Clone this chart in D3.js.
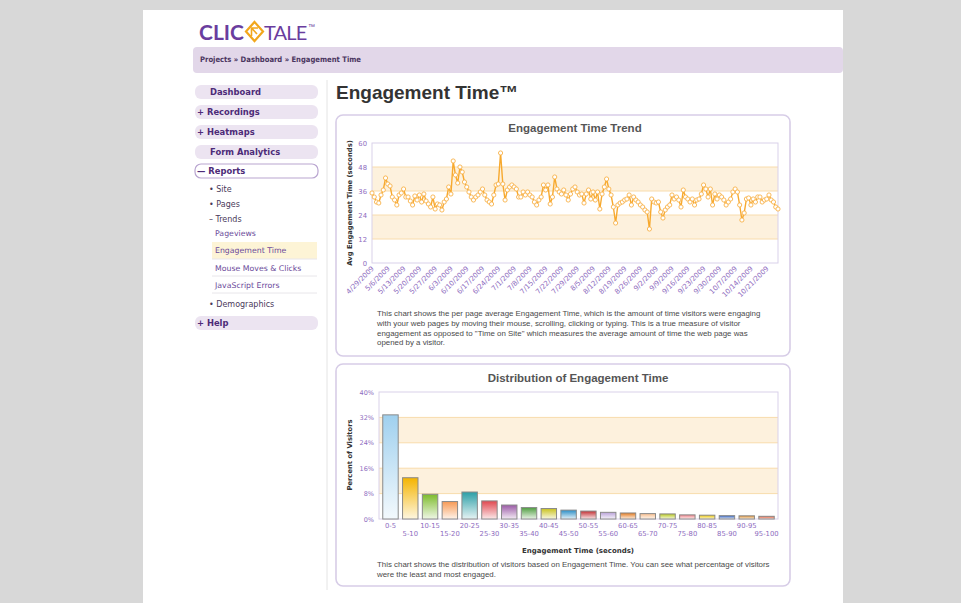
<!DOCTYPE html>
<html>
<head>
<meta charset="utf-8">
<script src="https://cdn.jsdelivr.net/npm/d3@7"></script>
<style>
  body { margin: 0; background: #d8d8d8; }
  svg { display: block; }
</style>
</head>
<body>
<svg id="page" width="961" height="603"></svg>
<script>
// ---- data ----
var trendStart = "4/29/2009";

// one value per day, 4/29/2009 .. 10/26/2009 (seconds)
var trendValues = [
  35, 33, 30.5, 30, 34, 36.5, 42.5, 39.5, 38.5, 33, 31.5, 29, 34, 35, 37, 33, 33, 31, 29, 33.5,
  31.5, 34, 30.5, 34.5, 31, 29.5, 28, 33, 27, 29.5, 29, 26.5, 30.5, 32, 38, 34.5,
  51, 44, 40, 48, 45.5, 40.5, 38, 35.5, 33, 31.5, 33, 34, 35.5, 37, 34, 31.5, 30.5, 29.5, 34, 39, 39.5, 55,
  39.5, 31.5, 36.5, 38, 39, 38, 37, 33, 33, 35.5, 34, 35.5, 34, 33, 30.5, 29, 31.5, 33, 39, 36.5, 39,
  29.5, 33, 43,
  37, 35.5, 34.5, 36.5, 34, 31.5, 34.5, 37, 38, 35.5, 34, 34.5, 30, 34.5, 36.5, 32, 35.5, 31.5, 35.5, 27, 34.5, 38,
  42, 37, 34, 28, 20,
  29, 30, 30.5, 31.5, 32, 34, 29, 33, 31.5, 30.5, 29, 28, 26.5, 25.5,
  17,
  32, 30.5, 30, 30.5, 25.5, 22.5, 26.5, 28, 29, 34, 32, 33, 31.5, 28, 36.5, 33, 32, 30.5, 32, 29, 31.5, 32, 34.5,
  39,
  37, 33, 37, 29, 34.5, 32, 34, 33, 31.5, 29, 30.5, 32, 35.5, 37, 35.5, 29,
  21.5,
  25, 32, 32.5, 29, 32, 30.5, 33, 33, 30.5, 31.5, 32, 34, 31.5, 30.5, 28, 27
];

var trendTickLabels = ["4/29/2009", "5/6/2009", "5/13/2009", "5/20/2009", "5/27/2009", "6/3/2009",
  "6/10/2009", "6/17/2009", "6/24/2009", "7/1/2009", "7/8/2009", "7/15/2009", "7/22/2009", "7/29/2009",
  "8/5/2009", "8/12/2009", "8/19/2009", "8/26/2009", "9/2/2009", "9/9/2009", "9/16/2009", "9/23/2009",
  "9/30/2009", "10/7/2009", "10/14/2009", "10/21/2009"];
var trendYTicks = [0, 12, 24, 36, 48, 60];
var trendBands = [[12, 24], [36, 48]];

var bucketLabels = ["0-5", "5-10", "10-15", "15-20", "20-25", "25-30", "30-35", "35-40", "40-45", "45-50",
  "50-55", "55-60", "60-65", "65-70", "70-75", "75-80", "80-85", "85-90", "90-95", "95-100"];
var bucketShares = [32.8, 13, 7.8, 5.5, 8.5, 5.7, 4.4, 3.6, 3.3, 2.8,
  2.5, 2.1, 1.9, 1.7, 1.6, 1.3, 1.2, 1.05, 1.0, 0.85];
var shareTicks = [0, 8, 16, 24, 32, 40];
var shareBands = [[8, 16], [24, 32]];

var bucketColors = ["#9fd0ee", "#f4b400", "#7dbb2c", "#f79a55", "#2b9ea6", "#e0474f", "#9a5aa6", "#4f9d40",
  "#c9c21e", "#2a8dc6", "#c22f33", "#b9a2d9", "#e27a1f", "#f7bd8c", "#b7c81b", "#ee7f86",
  "#e9c400", "#2f5fbf", "#e08f2e", "#e2522f"];

var menuTop = ["Dashboard", "+ Recordings", "+ Heatmaps", "Form Analytics"];
var subMenu = ["\u2022 Site", "\u2022 Pages", "\u2013 Trends"];
var trendMenu = ["Pageviews", "Engagement Time", "Mouse Moves & Clicks", "JavaScript Errors"];

var trendNote = [
  "This chart shows the per page average Engagement Time, which is the amount of time visitors were engaging",
  "with your web pages by moving their mouse, scrolling, clicking or typing. This is a true measure of visitor",
  "engagement as opposed to \"Time on Site\" which measures the average amount of time the web page was",
  "opened by a visitor."
];
var distNote = [
  "This chart shows the distribution of visitors based on Engagement Time. You can see what percentage of visitors",
  "were the least and most engaged."
];

// ---- page frame ----
var svg = d3.select("#page");
var purple = "#8e6cc0";
var darkPurple = "#4d2b78";
var sans = "'Liberation Sans', Arial, sans-serif";
var verd = "'DejaVu Sans', Verdana, sans-serif";

svg.append("rect").attr("x", 0).attr("y", 0).attr("width", 961).attr("height", 603).attr("fill", "#d8d8d8");
svg.append("rect").attr("x", 143).attr("y", 10).attr("width", 700).attr("height", 593).attr("fill", "#fff");

// logo
var logo = svg.append("g");
logo.append("text").attr("x", 199).attr("y", 40).text("CLIC")
  .style("font-family", "Lato, sans-serif").style("font-weight", 700).style("font-size", "21px")
  .style("fill", "#6a3d9e");
logo.append("path").attr("d", "M254.5,22 L263,31.5 L254.5,41 L246,31.5 Z")
  .attr("fill", "#fff").attr("stroke", "#f2a71c").attr("stroke-width", 2.2);
logo.append("path").attr("d", "M251.5,36 L251.5,28 L258,28 M251.5,28 L257,34")
  .attr("fill", "none").attr("stroke", "#f2a71c").attr("stroke-width", 1.6);
var tale = logo.append("text").attr("x", 264).attr("y", 40).text("TALE")
  .style("font-family", "Lato, sans-serif").style("font-weight", 400).style("font-size", "20px")
  .style("letter-spacing", "-0.8px").style("fill", "#6a3d9e");
var taleEnd = 264 + tale.node().getComputedTextLength() + 1.5;
logo.append("text").attr("x", taleEnd).attr("y", 29).text("\u2122")
  .style("font-family", sans).style("font-size", "7px").style("fill", "#6a3d9e");

// breadcrumb bar
svg.append("rect").attr("x", 193).attr("y", 47).attr("width", 650).attr("height", 26).attr("rx", 4)
  .attr("fill", "#e2d7e9");
svg.append("text").attr("x", 200).attr("y", 62).text("Projects \u00bb Dashboard \u00bb Engagement Time")
  .style("font-family", "'DejaVu Sans Condensed', 'DejaVu Sans', sans-serif").style("font-weight", 700)
  .style("font-size", "7.6px").style("fill", "#4a3560");

// sidebar
var side = svg.append("g");
menuTop.forEach(function(label, i) {
  var y = 85 + i * 20;
  side.append("rect").attr("x", 195).attr("y", y).attr("width", 123).attr("height", 14).attr("rx", 6)
    .attr("fill", "#ece4f1");
  side.append("text").attr("x", label.charAt(0) === "+" ? 197 : 210).attr("y", y + 10).text(label)
    .style("font-family", verd).style("font-weight", 700).style("font-size", "8.4px").style("fill", darkPurple);
});
side.append("rect").attr("x", 195).attr("y", 164).attr("width", 123).attr("height", 14).attr("rx", 6)
  .attr("fill", "#fff").attr("stroke", "#b9a5d0").attr("stroke-width", 1.2);
side.append("text").attr("x", 197).attr("y", 174).text("\u2014 Reports")
  .style("font-family", verd).style("font-weight", 700).style("font-size", "8.4px").style("fill", darkPurple);
subMenu.forEach(function(label, i) {
  side.append("text").attr("x", 209).attr("y", 192 + i * 15).text(label)
    .style("font-family", verd).style("font-size", "8px").style("fill", "#4a3a5a");
});
side.append("rect").attr("x", 212).attr("y", 242).attr("width", 105).attr("height", 17).attr("fill", "#fdf4d6");
[259, 276, 293].forEach(function(y) {
  side.append("line").attr("x1", 212).attr("x2", 317).attr("y1", y).attr("y2", y)
    .attr("stroke", "#e8e6ea").attr("stroke-width", 1);
});
trendMenu.forEach(function(label, i) {
  side.append("text").attr("x", 215).attr("y", 236 + i * 17.3).text(label)
    .style("font-family", verd).style("font-size", "7.8px").style("fill", "#6b4a9a");
});
side.append("text").attr("x", 209).attr("y", 307).text("\u2022 Demographics")
  .style("font-family", verd).style("font-size", "8px").style("fill", "#4a3a5a");
side.append("rect").attr("x", 195).attr("y", 316).attr("width", 123).attr("height", 14).attr("rx", 6)
  .attr("fill", "#ece4f1");
side.append("text").attr("x", 197).attr("y", 326).text("+ Help")
  .style("font-family", verd).style("font-weight", 700).style("font-size", "8.4px").style("fill", darkPurple);

svg.append("line").attr("x1", 327).attr("x2", 327).attr("y1", 80).attr("y2", 590)
  .attr("stroke", "#e4e4e4").attr("stroke-width", 1);

svg.append("text").attr("x", 336).attr("y", 99).text("Engagement Time\u2122")
  .style("font-family", sans).style("font-weight", 700).style("font-size", "19px").style("fill", "#333");

// panels
function panel(y, h) {
  svg.append("rect").attr("x", 336).attr("y", y).attr("width", 454).attr("height", h).attr("rx", 7)
    .attr("fill", "#fff").attr("stroke", "#d7cde7").attr("stroke-width", 1.6);
}
panel(115, 241);
panel(364, 222);

function note(lines, x, y0, step) {
  lines.forEach(function(t, i) {
    svg.append("text").attr("x", x).attr("y", y0 + i * step).text(t)
      .style("font-family", sans).style("font-size", "7.9px").style("fill", "#4a4a4a");
  });
}

// ---- Engagement Time Trend ----
var parseDay = d3.timeParse("%m/%d/%Y");
var day0 = parseDay(trendStart);
var trendPoints = trendValues.map(function(v, i) { return { date: d3.timeDay.offset(day0, i), value: v }; });

var xT = d3.scaleTime().domain([day0, d3.timeDay.offset(day0, trendValues.length - 1)]).range([372, 778]);
var yT = d3.scaleLinear().domain([0, 60]).range([263, 143]);

svg.append("text").attr("x", 575).attr("y", 132).attr("text-anchor", "middle").text("Engagement Time Trend")
  .style("font-family", sans).style("font-weight", 700).style("font-size", "11.5px").style("fill", "#555");

var gT = svg.append("g");
gT.selectAll("rect.band").data(trendBands).enter().append("rect").attr("class", "band")
  .attr("x", xT.range()[0]).attr("width", xT.range()[1] - xT.range()[0])
  .attr("y", function(d) { return yT(d[1]); })
  .attr("height", function(d) { return yT(d[0]) - yT(d[1]); })
  .attr("fill", "#fdf1dd");
gT.selectAll("line.grid").data(trendYTicks.slice(1, -1)).enter().append("line").attr("class", "grid")
  .attr("x1", xT.range()[0]).attr("x2", xT.range()[1])
  .attr("y1", function(d) { return yT(d); }).attr("y2", function(d) { return yT(d); })
  .attr("stroke", "#f8dcad").attr("stroke-width", 1);
gT.append("rect").attr("x", 372).attr("y", 143).attr("width", 406).attr("height", 120)
  .attr("fill", "none").attr("stroke", "#d9d1ea").attr("stroke-width", 1);

var yAxisT = gT.append("g").attr("transform", "translate(372,0)")
  .call(d3.axisLeft(yT).tickValues(trendYTicks).tickSize(0).tickPadding(5));
yAxisT.select(".domain").remove();
yAxisT.selectAll("text").style("font-family", verd).style("font-size", "6.8px").style("fill", purple);

var xAxisT = gT.append("g").attr("transform", "translate(0,263)")
  .call(d3.axisBottom(xT).tickValues(trendTickLabels.map(parseDay)).tickSize(0)
    .tickFormat(function(d, i) { return trendTickLabels[i]; }));
xAxisT.select(".domain").remove();
xAxisT.selectAll("text")
  .attr("y", 0).attr("dy", 0)
  .attr("transform", "translate(2,6) rotate(-45)")
  .style("text-anchor", "end")
  .style("font-family", verd).style("font-size", "7px").style("fill", purple);

gT.append("text").attr("transform", "translate(352,203) rotate(-90)").attr("text-anchor", "middle")
  .text("Avg Engagement Time  (seconds)")
  .style("font-family", verd).style("font-weight", 700).style("font-size", "6.8px").style("fill", "#333");

var trendLine = d3.line().x(function(d) { return xT(d.date); }).y(function(d) { return yT(d.value); });
gT.append("path").datum(trendPoints).attr("d", trendLine)
  .attr("fill", "none").attr("stroke", "#f7a92e").attr("stroke-width", 1.4);
gT.selectAll("circle.pt").data(trendPoints).enter().append("circle").attr("class", "pt")
  .attr("cx", function(d) { return xT(d.date); })
  .attr("cy", function(d) { return yT(d.value); })
  .attr("r", 2.1)
  .attr("fill", "#fff").attr("stroke", "#f8b24a").attr("stroke-width", 0.9);

note(trendNote, 377, 316, 9.8);

// ---- Distribution of Engagement Time ----
var xB = d3.scaleBand().domain(bucketLabels).range([379, 778]).paddingInner(0.22).paddingOuter(0.19);
var yB = d3.scaleLinear().domain([0, 40]).range([519, 392]);

svg.append("text").attr("x", 578).attr("y", 382).attr("text-anchor", "middle").text("Distribution of Engagement Time")
  .style("font-family", sans).style("font-weight", 700).style("font-size", "11.5px").style("fill", "#555");

var gB = svg.append("g");
gB.selectAll("rect.band").data(shareBands).enter().append("rect").attr("class", "band")
  .attr("x", 379).attr("width", 399)
  .attr("y", function(d) { return yB(d[1]); })
  .attr("height", function(d) { return yB(d[0]) - yB(d[1]); })
  .attr("fill", "#fdf1dd");
gB.selectAll("line.grid").data(shareTicks.slice(1, -1)).enter().append("line").attr("class", "grid")
  .attr("x1", 379).attr("x2", 778)
  .attr("y1", function(d) { return yB(d); }).attr("y2", function(d) { return yB(d); })
  .attr("stroke", "#f8dcad").attr("stroke-width", 1);
gB.append("rect").attr("x", 379).attr("y", 392).attr("width", 399).attr("height", 127)
  .attr("fill", "none").attr("stroke", "#d9d1ea").attr("stroke-width", 1);

var defs = svg.append("defs");
bucketColors.forEach(function(c, i) {
  var grad = defs.append("linearGradient").attr("id", "bar" + i)
    .attr("x1", 0).attr("y1", 0).attr("x2", 0).attr("y2", 1);
  grad.append("stop").attr("offset", "0%").attr("stop-color", c);
  grad.append("stop").attr("offset", "100%").attr("stop-color", d3.interpolateRgb(c, "#fff")(0.88));
});

gB.selectAll("rect.bar").data(bucketShares).enter().append("rect").attr("class", "bar")
  .attr("x", function(d, i) { return xB(bucketLabels[i]); })
  .attr("width", xB.bandwidth())
  .attr("y", function(d) { return yB(d); })
  .attr("height", function(d) { return yB(0) - yB(d); })
  .attr("fill", function(d, i) { return "url(#bar" + i + ")"; })
  .attr("stroke", "#8a8a8a").attr("stroke-width", 1);

var yAxisB = gB.append("g").attr("transform", "translate(379,0)")
  .call(d3.axisLeft(yB).tickValues(shareTicks).tickSize(0).tickPadding(5)
    .tickFormat(function(d) { return d + "%"; }));
yAxisB.select(".domain").remove();
yAxisB.selectAll("text").style("font-family", verd).style("font-size", "6.5px").style("fill", purple);

var xAxisB = gB.append("g").attr("transform", "translate(0,519)")
  .call(d3.axisBottom(xB).tickSize(0).tickPadding(4));
xAxisB.select(".domain").remove();
xAxisB.selectAll("text")
  .attr("dy", function(d, i) { return i % 2 ? "1.95em" : "0.71em"; })
  .style("font-family", verd).style("font-size", "6.8px").style("fill", purple);

gB.append("text").attr("x", 578).attr("y", 553).attr("text-anchor", "middle").text("Engagement Time  (seconds)")
  .style("font-family", verd).style("font-weight", 700).style("font-size", "7px").style("fill", "#333");
gB.append("text").attr("transform", "translate(352,455) rotate(-90)").attr("text-anchor", "middle")
  .text("Percent of Visitors")
  .style("font-family", verd).style("font-weight", 700).style("font-size", "6.8px").style("fill", "#333");

note(distNote, 377, 567, 9.8);
</script>
</body>
</html>
